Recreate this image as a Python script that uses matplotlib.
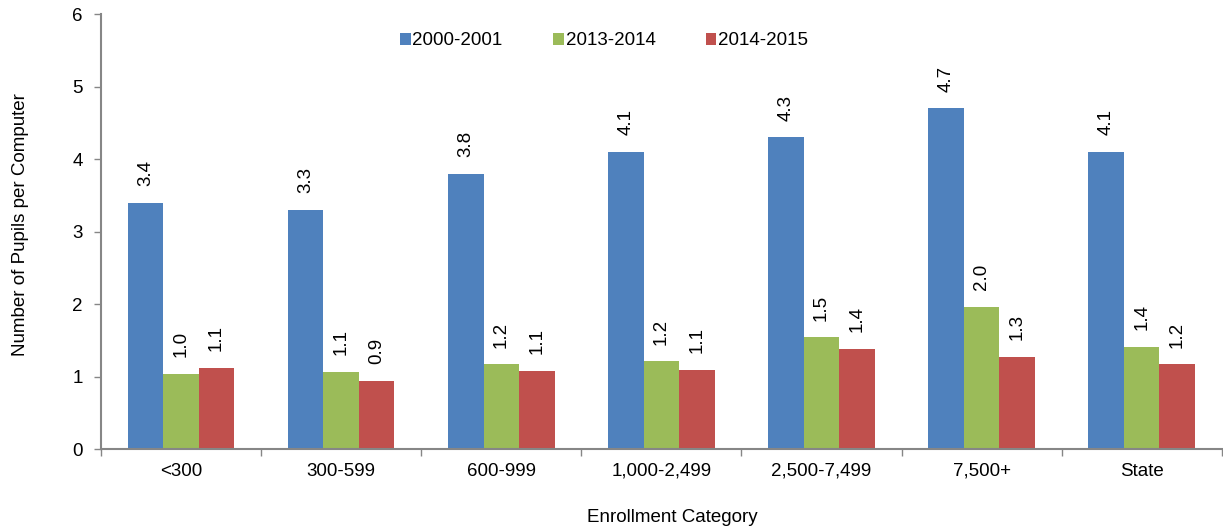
import matplotlib.pyplot as plt
import numpy as np

plt.rcParams['font.family'] = ['Liberation Sans', 'DejaVu Sans']

categories = ['<300', '300-599', '600-999', '1,000-2,499', '2,500-7,499', '7,500+', 'State']
series = ['2000-2001', '2013-2014', '2014-2015']
v2000 = [3.4, 3.3, 3.8, 4.1, 4.3, 4.7, 4.1]
v2013 = [1.04, 1.06, 1.17, 1.21, 1.54, 1.96, 1.41]
v2014 = [1.12, 0.94, 1.08, 1.09, 1.38, 1.27, 1.17]
colors = ['#4F81BD', '#9BBB59', '#C0504D']

fs = 13.5
fig = plt.figure(figsize=(12.23, 5.31), dpi=100)
ax = fig.add_axes([0.0826, 0.1544, 0.9164, 0.8192])

x = np.arange(len(categories))
w = 0.222
for i, (vals, name) in enumerate(zip([v2000, v2013, v2014], series)):
    bars = ax.bar(x + (i - 1) * w, vals, w, color=colors[i], label=name)
    for b, v in zip(bars, vals):
        ax.annotate(f'{v:.1f}', (b.get_x() + b.get_width() / 2, v),
                    xytext=(0, 12), textcoords='offset points',
                    rotation=90, ha='center', va='bottom', fontsize=fs)

ax.set_xlim(-0.5, len(categories) - 0.5)
ax.set_ylim(0, 6)
ax.set_yticks(range(0, 7))
ax.set_xticks(x)
ax.set_xticklabels(categories, fontsize=fs)
ax.set_xticks(np.arange(-0.5, len(categories)), minor=True)
ax.tick_params(axis='x', which='major', length=0, pad=10)
ax.tick_params(axis='x', which='minor', length=5, color='#868686', width=1)
ax.tick_params(axis='y', length=5, color='#868686', labelsize=fs, width=1, pad=8)

for s in ['top', 'right']:
    ax.spines[s].set_visible(False)
for s in ['left', 'bottom']:
    ax.spines[s].set_color('#868686')
    ax.spines[s].set_linewidth(1.5)

ax.set_ylabel('Number of Pupils per Computer', fontsize=fs)
ax.yaxis.set_label_coords(-0.064, 0.515)
ax.set_xlabel('Enrollment Category', fontsize=fs)
ax.xaxis.set_label_coords(0.510, -0.138)

ax.legend(loc='center', bbox_to_anchor=(0.449, 0.938), ncol=3, frameon=False,
          fontsize=fs, handlelength=0.55, handleheight=0.55, handletextpad=0.1,
          columnspacing=2.7, borderpad=0)

fig.savefig('out.png', dpi=100)
